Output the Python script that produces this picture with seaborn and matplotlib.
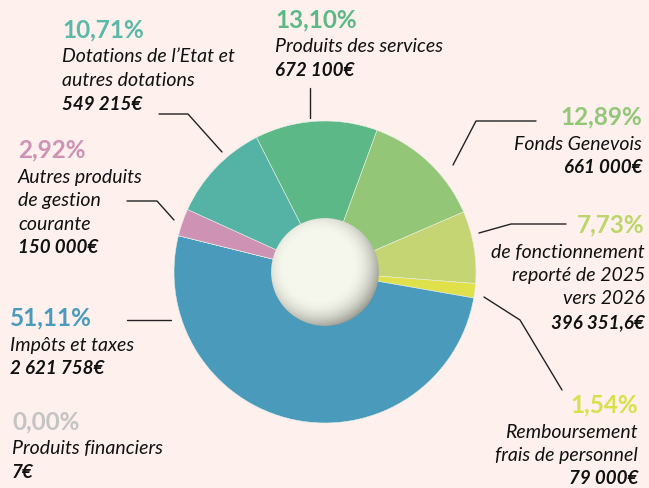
import numpy as np
import matplotlib.pyplot as plt
import seaborn as sns
from matplotlib.patches import Circle

sns.set_style("white")
plt.rcParams["font.family"] = ["Lato", "DejaVu Sans"]

# données (ordre horaire depuis le haut)
categories = ["Produits des services", "Fonds Genevois", "Excédent de fonctionnement",
              "Remboursement frais de personnel", "Impôts et taxes", "Produits financiers",
              "Autres produits de gestion courante", "Dotations de l'Etat et autres dotations"]
montants = [672100, 661000, 396351.6, 79000, 2621758, 7, 150000, 549215]
pourcents = ["13,10%", "12,89%", "7,73%", "1,54%", "51,11%", "0,00%", "2,92%", "10,71%"]
libelles = [["Produits des services"], ["Fonds Genevois"],
            ["de fonctionnement", "reporté de 2025", "vers 2026"],
            ["Remboursement", "frais de personnel"], ["Impôts et taxes"],
            ["Produits financiers"], ["Autres produits", "de gestion", "courante"],
            ["Dotations de l’Etat et", "autres dotations"]]
valeurs_txt = ["672 100€", "661 000€", "396 351,6€", "79 000€", "2 621 758€", "7€",
               "150 000€", "549 215€"]
couleurs = ["#5cb887", "#93c677", "#c5d573", "#e0e04a", "#4a9abb", "#c0c0c0",
            "#cd92b4", "#55b3a5"]
couleurs_pct = ["#5cb887", "#93c677", "#bcd66a", "#d8e04a", "#4a9abb", "#c4c4c4",
                "#cd92b4", "#5bb8a8"]

BG = "#fdf0ed"
W, H = 649, 488
fig = plt.figure(figsize=(W / 100, H / 100), dpi=100, facecolor=BG)

# axe "pixels" pour textes et traits de rappel
ax = fig.add_axes([0, 0, 1, 1])
ax.set_xlim(0, W)
ax.set_ylim(H, 0)
ax.axis("off")
ax.set_facecolor(BG)

# camembert
cx, cy, R = 325, 272, 151
pax = fig.add_axes([(cx - R) / W, (H - cy - R) / H, 2 * R / W, 2 * R / H])
pax.pie(montants, colors=couleurs, startangle=117, counterclock=False,
        wedgeprops=dict(linewidth=0.4, edgecolor="#e8efe6"))
pax.set_xlim(-1, 1)
pax.set_ylim(-1, 1)
pax.set_aspect("auto")
pax.axis("off")

# disque central avec ombrage
r0 = 0.357
n = 300
g = np.linspace(-1, 1, n)
X, Y = np.meshgrid(g, g[::-1])
d = np.sqrt((X + 0.12) ** 2 + (Y - 0.12) ** 2)
shade = np.clip((d - 0.62) / 0.58, 0, 1) ** 2
base = np.array([0.962, 0.970, 0.930])
dark = np.array([0.56, 0.56, 0.52])
img = base[None, None, :] * (1 - shade[..., None]) + dark[None, None, :] * shade[..., None]
circ = Circle((0, 0), r0, transform=pax.transData, facecolor="none", edgecolor="none")
pax.add_patch(circ)
im = pax.imshow(img, extent=[-r0, r0, -r0, r0], zorder=5)
im.set_clip_path(circ)

# étiquettes : (x, y du pourcentage, alignement)
positions = [(275, 20, "left"), (642, 117, "right"), (645, 225, "right"),
             (638, 405, "right"), (10, 318, "left"), (12, 422, "left"),
             (18, 150, "left"), (62, 30, "left")]
for i, (x, y, ha) in enumerate(positions):
    ax.text(x, y, pourcents[i], ha=ha, va="center", fontsize=17.5, fontweight="bold",
            color=couleurs_pct[i])
    yy = y + 27
    for ligne in libelles[i]:
        ax.text(x, yy, ligne, ha=ha, va="center", fontsize=14, style="italic",
                color="#111111")
        yy += 23.5
    ax.text(x, yy, valeurs_txt[i], ha=ha, va="center", fontsize=13.5, style="italic",
            fontweight="bold", color="#111111")

# traits de rappel
traits = [
    [(310, 88), (310, 118)],
    [(536, 121), (476, 121), (453, 165)],
    [(566, 224), (511, 224), (479, 233)],
    [(484, 297), (520, 320), (562, 390)],
    [(127, 320), (171, 320)],
    [(127, 201), (157, 201), (174, 220)],
    [(159, 114), (188, 114), (222, 152)],
]
for t in traits:
    xs, ys = zip(*t)
    ax.plot(xs, ys, color="#222222", lw=1.0)

fig.savefig("out.png", dpi=100, facecolor=BG)
